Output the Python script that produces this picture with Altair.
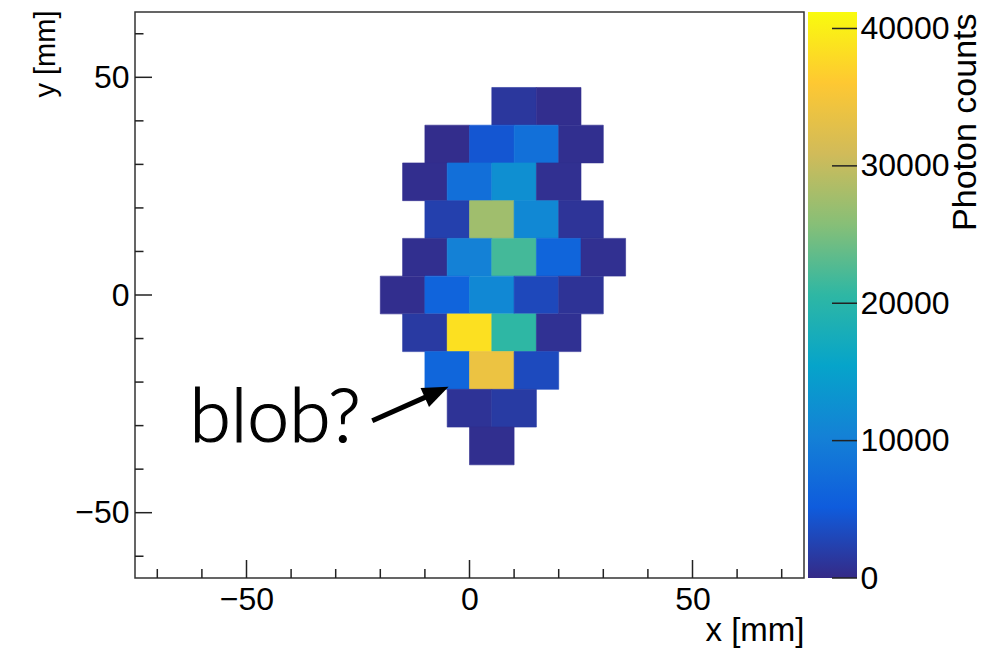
import math

import altair as alt
import pandas as pd

# Staggered (hexagonal-pitch) readout pads: each row is shifted by half a pad.
PAD_W = 10.0                 # pad width  [mm]
PAD_H = 130.0 / 15           # row pitch  [mm]
Z_MAX = 41200                # top of the colour axis [photon counts]

# ROOT "kBird" palette stops
BIRD = ["#352a87", "#0f5cdd", "#1481d6", "#06a4ca", "#2eb7a4",
        "#87bf77", "#d1bb59", "#fec832", "#f9fb0e"]

# Pad rows, top to bottom: row centre [mm], pad centres [mm], photon counts
row_y = [43.33, 34.67, 26.0, 17.33, 8.67, 0.0, -8.67, -17.33, -26.0, -34.67]
row_x = [
    [10, 20],
    [-5, 5, 15, 25],
    [-10, 0, 10, 20],
    [-5, 5, 15, 25],
    [-10, 0, 10, 20, 30],
    [-15, -5, 5, 15, 25],
    [-10, 0, 10, 20],
    [-5, 5, 15],
    [0, 10],
    [5],
]
row_counts = [
    [1300, 400],
    [300, 4500, 7900, 500],
    [400, 7800, 12300, 600],
    [2300, 27500, 11300, 1000],
    [500, 10300, 21900, 6400, 600],
    [400, 6200, 11300, 3100, 900],
    [1600, 38500, 20600, 700],
    [6600, 34000, 3300],
    [900, 1700],
    [500],
]

# Axis tick positions [mm] and colour-bar tick values
x_major = [-50, 0, 50]
x_minor = [-70, -60, -40, -30, -20, -10, 10, 20, 30, 40, 60, 70]
y_major = [-50, 0, 50]
y_minor = [-60, -40, -30, -20, -10, 10, 20, 30, 40, 60]
z_ticks = [0, 10000, 20000, 30000, 40000]

# Annotation
note_text = ["blob?"]
note_pos = [-62.8, -33.8]
arrow_tail = [-21.8, -28.9]
arrow_tip = [-4.7, -21.1]

W, H = 669, 566
FONT = "Liberation Sans"

cells = pd.DataFrame(
    [
        {"x": x, "y": y, "counts": c}
        for y, xs, cs in zip(row_y, row_x, row_counts)
        for x, c in zip(xs, cs)
    ]
)

x_scale = alt.Scale(domain=[-75, 75], nice=False, zero=False)
y_scale = alt.Scale(domain=[-65, 65], nice=False, zero=False)
z_scale = alt.Scale(domain=[Z_MAX * i / 8 for i in range(9)], range=BIRD,
                    interpolate="rgb")

x_axis = alt.Axis(values=x_major, format="d", ticks=False, tickSize=0,
                  domain=False, grid=False, labelPadding=6, labelFontSize=32,
                  title="x [mm]", titleX=W, titleY=62, titleAlign="right",
                  titleBaseline="alphabetic", titleFontSize=33)
y_axis = alt.Axis(values=y_major, format="d", ticks=False, tickSize=0,
                  domain=False, grid=False, labelPadding=6, labelFontSize=32,
                  title="y [mm]", titleAngle=270, titleX=-81, titleY=-2,
                  titleAlign="right", titleBaseline="alphabetic",
                  titleFontSize=29)

X = lambda f: alt.X(f, scale=x_scale, axis=x_axis)
Y = lambda f: alt.Y(f, scale=y_scale, axis=y_axis)

heat = (
    alt.Chart(cells)
    .transform_calculate(
        x0=f"datum.x - {PAD_W / 2}", x1=f"datum.x + {PAD_W / 2}",
        y0=f"datum.y - {PAD_H / 2}", y1=f"datum.y + {PAD_H / 2}",
    )
    .mark_rect(strokeWidth=0.6)
    .encode(
        x=X("x0:Q"), x2="x1:Q",
        y=Y("y0:Q"), y2="y1:Q",
        color=alt.Color("counts:Q", scale=z_scale, legend=None),
        stroke=alt.Stroke("counts:Q", scale=z_scale, legend=None),
    )
)

TICK = dict(color="#222", strokeWidth=1.5)


def x_ticks(values, length):
    return alt.Chart(pd.DataFrame({"t": values})).mark_rule(**TICK).encode(
        x=X("t:Q"), y=alt.value(H), y2=alt.value(H - length))


def y_ticks(values, length):
    return alt.Chart(pd.DataFrame({"t": values})).mark_rule(**TICK).encode(
        y=Y("t:Q"), x=alt.value(0), x2=alt.value(length))


# Arrow: shaft plus a filled head whose point sits on the arrow tip
px_per_mm_x = W / 150.0
px_per_mm_y = H / 130.0
dx = (arrow_tip[0] - arrow_tail[0]) * px_per_mm_x
dy = (arrow_tip[1] - arrow_tail[1]) * px_per_mm_y
head_angle = math.degrees(math.atan2(dx, dy)) % 360
shaft_end = [arrow_tail[0] + 0.75 * (arrow_tip[0] - arrow_tail[0]),
             arrow_tail[1] + 0.75 * (arrow_tip[1] - arrow_tail[1])]

shaft = alt.Chart(pd.DataFrame({
    "x": [arrow_tail[0]], "y": [arrow_tail[1]],
    "x2": [shaft_end[0]], "y2": [shaft_end[1]],
})).mark_rule(color="black", strokeWidth=5).encode(
    x=X("x:Q"), y=Y("y:Q"), x2="x2:Q", y2="y2:Q")

head = alt.Chart(pd.DataFrame({"x": [arrow_tip[0]], "y": [arrow_tip[1]]})).mark_point(
    shape="M0,0L-0.8,2L0.8,2Z", size=676, filled=True, color="black",
    opacity=1, strokeWidth=0, angle=head_angle,
).encode(x=X("x:Q"), y=Y("y:Q"))

note = alt.Chart(pd.DataFrame({"x": [note_pos[0]], "y": [note_pos[1]],
                               "label": note_text})).mark_text(
    align="left", baseline="alphabetic", font="Lato", fontSize=75,
    fontWeight=300, fill="black", stroke="black", strokeWidth=1.2,
).encode(x=X("x:Q"), y=Y("y:Q"), text="label:N")

main = alt.layer(
    heat,
    x_ticks(x_major, 18), x_ticks(x_minor, 9),
    y_ticks(y_major, 17), y_ticks(y_minor, 8.5),
    shaft, head, note,
)

# Colour bar drawn beside the frame with its own vertical scale
CB_X0, CB_X1 = W + 4, W + 53
cb_scale = alt.Scale(domain=[0, Z_MAX], nice=False, zero=False)
cb_axis = alt.Axis(orient="right", offset=CB_X1 - W, values=z_ticks, format="d",
                   ticks=False, tickSize=0, domain=False, grid=False,
                   labelPadding=3, labelFontSize=32, labelFlush=False,
                   title="Photon counts", titleAngle=270, titleAlign="right",
                   titleBaseline="alphabetic", titleX=118, titleY=1,
                   titleFontSize=34)
gradient = alt.LinearGradient(
    gradient="linear",
    stops=[alt.GradientStop(color=c, offset=i / 8) for i, c in enumerate(BIRD)],
    x1=0, x2=0, y1=1, y2=0,
)
cb_rect = alt.Chart(pd.DataFrame({"z": [0], "z2": [Z_MAX]})).mark_rect(
    fill=gradient, strokeWidth=0
).encode(
    y=alt.Y("z:Q", scale=cb_scale, axis=cb_axis), y2="z2:Q",
    x=alt.value(CB_X0), x2=alt.value(CB_X1),
)
cb_ticks = alt.Chart(pd.DataFrame({"z": z_ticks})).mark_rule(**TICK).encode(
    y=alt.Y("z:Q", scale=cb_scale, axis=cb_axis),
    x=alt.value(CB_X1 - 25), x2=alt.value(CB_X1),
)
cbar = alt.layer(cb_rect, cb_ticks)

chart = (
    alt.layer(main, cbar)
    .resolve_scale(y="independent")
    .properties(
        width=W, height=H,
        autosize=alt.AutoSizeParams(type="none"),
        padding={"left": 135, "top": 12, "right": 988 - 135 - W,
                 "bottom": 652 - 12 - H},
        background="white",
    )
    .configure_view(stroke="#333", strokeWidth=1.5)
    .configure_axis(labelFont=FONT, titleFont=FONT, labelColor="black",
                    titleColor="black", titleFontWeight="normal")
)

chart.save("out.html", embed_options={"renderer": "svg", "actions": False})
